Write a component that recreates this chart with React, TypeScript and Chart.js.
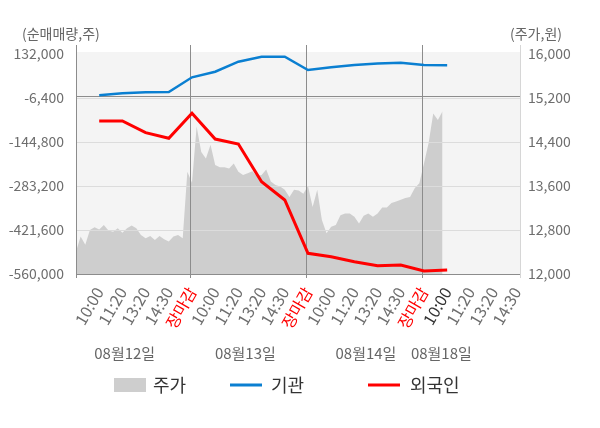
import { useEffect, useRef } from "react";
import { Chart, registerables } from "chart.js";

Chart.register(...registerables);

// x axis: one slot per time label, 5 slots per trading day
const timeLabels = [
  "10:00", "11:20", "13:20", "14:30", "장마감",
  "10:00", "11:20", "13:20", "14:30", "장마감",
  "10:00", "11:20", "13:20", "14:30", "장마감",
  "10:00", "11:20", "13:20", "14:30",
];
const dates = ["08월12일", "08월13일", "08월14일", "08월18일"];

const leftTicks = [-560000, -421600, -283200, -144800, -6400, 132000];
const rightTicks = [12000, 12800, 13600, 14400, 15200, 16000];

// cumulative net buying (shares), one value per time label
const institution = [
  2100, 8400, 11500, 12500, 58700, 76300, 107800, 123500, 123500, 81700,
  90200, 97400, 102100, 104600, 97400, 96500,
];
const foreign = [
  -78700, -78700, -115500, -133200, -54500, -135400, -151100, -269700,
  -327200, -494900, -505600, -521300, -534300, -531700, -550600, -547500,
];

// share price (won), one sample every 0.2 slot
const PRICE_STEP = 0.2;
const price = [
  12410, 12680, 12530, 12800, 12850, 12810, 12890, 12790, 12770, 12830,
  12750, 12830, 12880, 12830, 12710, 12650, 12690, 12620, 12690, 12630,
  12590, 12680, 12710, 12650,
  13860, 13660, 14680, 14220, 14100, 14350, 13980, 13940, 13940, 13920,
  14010, 13860, 13800, 13830, 13870, 13780, 13800, 13900, 13680, 13620,
  13590, 13530, 13400, 13530, 13520, 13460,
  13600, 13220, 13530, 12980, 12740, 12860, 12890, 13070, 13100, 13100,
  13040, 12920, 13060, 13100, 13040, 13100, 13210, 13210, 13290, 13320,
  13350, 13380, 13400, 13560, 13650, 14010, 14380, 14920, 14800, 14960,
];

const FONT = "'Noto Sans CJK KR', 'Noto Sans', sans-serif";
const DAY_ENDS = [5, 10, 15];
const DATE_AT = [2.1, 7.3, 12.5, 15.75];

const decor = {
  id: "decor",
  beforeDraw(chart: Chart) {
    const { ctx, chartArea: a } = chart;
    ctx.save();
    ctx.fillStyle = "#f4f4f4";
    ctx.fillRect(a.left, a.top - 2, a.right - a.left, a.bottom - a.top + 2);
    ctx.restore();
  },
  afterDatasetDraw(chart: Chart, args: { index: number }) {
    if (args.index !== 0) return;
    const { ctx, chartArea: a, scales } = chart;
    const x = scales.x;
    const yL = scales.yL;
    const top = a.top - 9;
    const bot = a.bottom + 4;
    ctx.save();
    ctx.lineWidth = 1;
    const hline = (y: number, color: string) => {
      const yy = Math.round(y) + 0.5;
      ctx.strokeStyle = color;
      ctx.beginPath();
      ctx.moveTo(a.left, yy);
      ctx.lineTo(a.right, yy);
      ctx.stroke();
    };
    const vline = (px: number, color: string) => {
      const xx = Math.round(px) + 0.5;
      ctx.strokeStyle = color;
      ctx.beginPath();
      ctx.moveTo(xx, top);
      ctx.lineTo(xx, bot);
      ctx.stroke();
    };
    leftTicks.slice(1, -1).forEach((v) => hline(yL.getPixelForValue(v), "#dcdcdc"));
    hline(yL.getPixelForValue(0), "#8c8c8c");
    hline(a.bottom, "#8c8c8c");
    vline(a.right, "#d6d6d6");
    vline(a.left, "#8c8c8c");
    DAY_ENDS.forEach((s) => vline(x.getPixelForValue(s) - 2, "#8c8c8c"));
    ctx.restore();
  },
  afterDraw(chart: Chart) {
    const { ctx, scales } = chart;
    ctx.save();
    ctx.textBaseline = "middle";
    ctx.fillStyle = "#666";
    ctx.font = `14px ${FONT}`;
    ctx.textAlign = "left";
    ctx.fillText("(순매매량,주)", 22, 34);
    ctx.fillText("(주가,원)", 510, 34);

    ctx.font = `15px ${FONT}`;
    ctx.textAlign = "center";
    dates.forEach((d, i) => ctx.fillText(d, scales.x.getPixelForValue(DATE_AT[i]), 353));

    // legend
    const ly = 385;
    ctx.font = `18px ${FONT}`;
    ctx.textAlign = "left";
    ctx.fillStyle = "#cecece";
    ctx.fillRect(114, ly - 7, 32, 14);
    ctx.lineWidth = 3;
    ctx.strokeStyle = "#0a7fd1";
    ctx.beginPath();
    ctx.moveTo(230, ly);
    ctx.lineTo(262, ly);
    ctx.stroke();
    ctx.strokeStyle = "#ff0000";
    ctx.beginPath();
    ctx.moveTo(368, ly);
    ctx.lineTo(400, ly);
    ctx.stroke();
    ctx.fillStyle = "#333";
    ctx.fillText("주가", 153, ly);
    ctx.fillText("기관", 271, ly);
    ctx.fillText("외국인", 410, ly);
    ctx.restore();
  },
};

export default function App() {
  const canvasRef = useRef<HTMLCanvasElement>(null);

  useEffect(() => {
    document.body.style.margin = "0";
    const canvas = canvasRef.current;
    if (!canvas) return;

    const chart = new Chart(canvas, {
      type: "line",
      data: {
        datasets: [
          {
            label: "주가",
            data: price.map((p, i) => ({ x: i * PRICE_STEP, y: p })),
            yAxisID: "yR",
            fill: "start",
            backgroundColor: "#cecece",
            borderColor: "rgba(0,0,0,0)",
            borderWidth: 0,
            pointRadius: 0,
            tension: 0,
            order: 3,
          },
          {
            label: "기관",
            data: institution.map((v, i) => ({ x: i + 1, y: v })),
            yAxisID: "yL",
            borderColor: "#0a7fd1",
            borderWidth: 2.5,
            pointRadius: 0,
            fill: false,
            tension: 0,
            order: 2,
          },
          {
            label: "외국인",
            data: foreign.map((v, i) => ({ x: i + 1, y: v })),
            yAxisID: "yL",
            borderColor: "#ff0000",
            borderWidth: 3,
            pointRadius: 0,
            fill: false,
            tension: 0,
            order: 1,
          },
        ],
      },
      options: {
        responsive: true,
        maintainAspectRatio: false,
        animation: false,
        layout: { padding: { top: 54, left: 0, right: 0, bottom: 0 } },
        plugins: { legend: { display: false }, tooltip: { enabled: false } },
        scales: {
          x: {
            type: "linear",
            min: 0,
            max: 19.14,
            grid: { display: false, drawTicks: false },
            border: { display: false },
            afterBuildTicks: (s) => {
              s.ticks = timeLabels.map((_, i) => ({ value: i + 1 }));
            },
            afterFit: (s) => {
              s.height = 154;
            },
            ticks: {
              autoSkip: false,
              maxRotation: 60,
              minRotation: 60,
              padding: 10,
              font: { size: 16, family: FONT },
              color: (c) =>
                timeLabels[c.index] === "장마감" ? "#ff0000" : c.index === 15 ? "#333333" : "#6e6e6e",
              callback: (_v, i) => timeLabels[i],
            },
          },
          yL: {
            type: "linear",
            position: "left",
            min: -560000,
            max: 132000,
            grid: { display: false, drawTicks: false },
            border: { display: false },
            afterBuildTicks: (s) => {
              s.ticks = leftTicks.map((value) => ({ value }));
            },
            afterFit: (s) => {
              s.width = 76;
            },
            ticks: {
              padding: 12,
              font: { size: 14, family: FONT },
              color: "#6e6e6e",
              callback: (v) => Number(v).toLocaleString("en-US"),
            },
          },
          yR: {
            type: "linear",
            position: "right",
            min: 12000,
            max: 16000,
            grid: { display: false, drawTicks: false },
            border: { display: false },
            afterBuildTicks: (s) => {
              s.ticks = rightTicks.map((value) => ({ value }));
            },
            afterFit: (s) => {
              s.width = 80;
            },
            ticks: {
              padding: 8,
              font: { size: 14, family: FONT },
              color: "#6e6e6e",
              callback: (v) => Number(v).toLocaleString("en-US"),
            },
          },
        },
      },
      plugins: [decor],
    });

    return () => chart.destroy();
  }, []);

  return (
    <div style={{ position: "relative", width: 600, height: 428 }}>
      <canvas ref={canvasRef} />
    </div>
  );
}
